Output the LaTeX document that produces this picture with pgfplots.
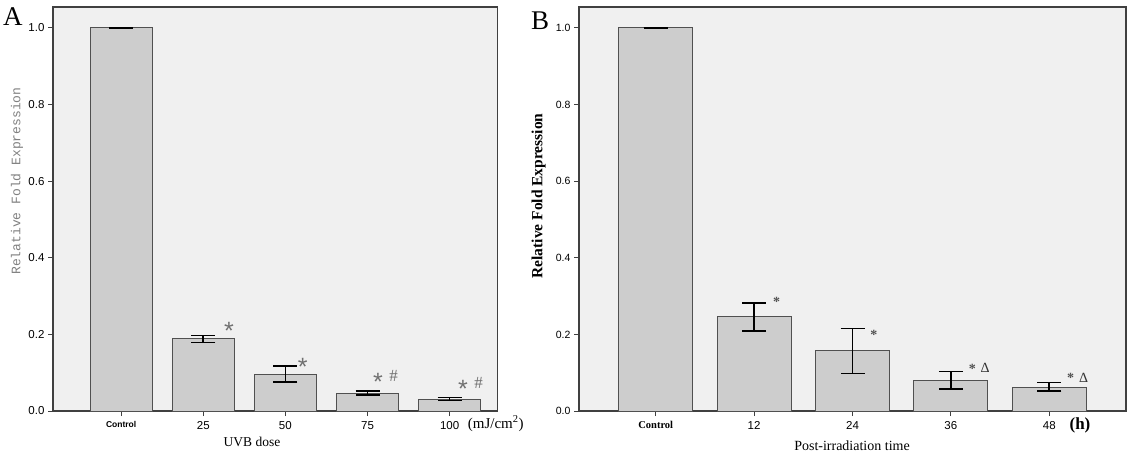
\documentclass[border=0pt]{standalone}
\usepackage{fontspec}
\setmainfont{Liberation Serif}
\newfontfamily\arial{Liberation Sans}
\newfontfamily\cour{Liberation Mono}
\usepackage{pgfplots}
\pgfplotsset{compat=1.18}
\definecolor{bgc}{HTML}{F0F0F0}
\definecolor{barc}{HTML}{CDCDCD}
\definecolor{edgec}{HTML}{505050}
\definecolor{framec}{HTML}{404040}
\definecolor{astc}{HTML}{707070}
\newcommand\fs[1]{\fontsize{#1}{#1}\selectfont}
\pgfplotsset{
  common/.style={
    scale only axis, anchor=south west, height=404pt,
    ymin=0, ymax=1.0548,
    axis background/.style={fill=bgc},
    axis line style={framec, line width=1.1pt},
    ytick={0,0.2,0.4,0.6,0.8,1.0},
    yticklabels={0.0,0.2,0.4,0.6,0.8,1.0},
    xtick={0,1,2,3,4},
    tick align=outside, major tick length=5pt,
    tick style={framec, line width=1pt},
    xtick pos=lower, ytick pos=left,
    xticklabel style={yshift=-2pt},
    clip=false,
  },
  barplot/.style={
    ybar, bar width=0.753, fill=barc, draw=edgec, line width=1pt,
    error bars/.cd, y dir=both, y explicit,
    error bar style={black, line width=1.6pt},
    error mark options={rotate=90, black, line width=1.6pt, mark size=12pt},
  },
}
\begin{document}
\begin{tikzpicture}
\path[use as bounding box] (0pt,0pt) rectangle (1129pt,453pt);
% Panel A
\begin{axis}[common, at={(53pt,42pt)}, width=444.5pt,
  xmin=-0.83, xmax=4.583,
  xticklabels={{\arial\bfseries\fs{8.5}Control},25,50,75,100},
  xticklabel style={font=\arial\fs{11.5}},
  yticklabel style={font=\arial\fs{11.5}},
]
\addplot[barplot] coordinates {
  (0,1.0)   += (0,0)      -= (0,0)
  (1,0.189) += (0,0.0086) -= (0,0.010)
  (2,0.0966) += (0,0.021) -= (0,0.021)
  (3,0.046) += (0,0.006)  -= (0,0.005)
  (4,0.031) += (0,0.0047) -= (0,0.004)
};
\node[anchor=base, yshift=-14.3pt, text=astc, font=\arial\fs{25}] at (1.313,0.2245) {*};
\node[anchor=base, yshift=-14.3pt, text=astc, font=\arial\fs{25}] at (2.21,0.1305) {*};
\node[anchor=base, yshift=-14.3pt, text=astc, font=\arial\fs{25}] at (3.128,0.0914) {*};
\node[anchor=base, yshift=-5.6pt, text=astc, font=\fs{17}] at (3.318,0.0914) {\#};
\node[anchor=base, yshift=-14.3pt, text=astc, font=\arial\fs{25}] at (4.163,0.0723) {*};
\node[anchor=base, yshift=-5.6pt, text=astc, font=\fs{17}] at (4.353,0.0731) {\#};
\end{axis}
% Panel B
\begin{axis}[common, at={(579pt,42pt)}, width=547pt,
  xmin=-0.78, xmax=4.78,
  xticklabels={{\rmfamily\bfseries\fs{10.5}Control},12,24,36,48},
  xticklabel style={font=\arial\fs{11.5}},
  yticklabel style={font=\arial\fs{10.5}},
]
\addplot[barplot] coordinates {
  (0,1.0)   += (0,0)     -= (0,0)
  (1,0.246) += (0,0.036) -= (0,0.037)
  (2,0.157) += (0,0.058) -= (0,0.059)
  (3,0.080) += (0,0.023) -= (0,0.022)
  (4,0.062) += (0,0.012) -= (0,0.010)
};
\node[anchor=base, yshift=-7.4pt, text=edgec, font=\bfseries\fs{14}] at (1.228,0.2916) {*};
\node[anchor=base, yshift=-7.4pt, text=edgec, font=\bfseries\fs{14}] at (2.216,0.2055) {*};
\node[anchor=base, yshift=-7.4pt, text=edgec, font=\bfseries\fs{14}] at (3.218,0.1183) {*};
\node[anchor=base, yshift=-4.6pt, text=black!80, font=\fs{14}] at (3.347,0.1115) {Δ};
\node[anchor=base, yshift=-7.4pt, text=edgec, font=\bfseries\fs{14}] at (4.217,0.094) {*};
\node[anchor=base, yshift=-4.6pt, text=black!80, font=\fs{14}] at (4.349,0.0854) {Δ};
\end{axis}
% Panel letters and labels
\node[anchor=base west, inner sep=0pt, font=\fs{27}] at (3pt,427pt) {A};
\node[anchor=base west, inner sep=0pt, font=\fs{27}] at (531pt,423pt) {B};
\node[anchor=base, inner sep=0pt, font=\fs{13.5}] at (252pt,7pt) {UVB dose};
\node[anchor=base, inner sep=0pt, font=\fs{15}] at (495.7pt,25pt) {(mJ/cm\textsuperscript{2})};
\node[anchor=base, inner sep=0pt, font=\fs{14}] at (852pt,3pt) {Post-irradiation time};
\node[anchor=base, inner sep=0pt, font=\bfseries\fs{17}] at (1080pt,24pt) {(h)};
\node[rotate=90, inner sep=0pt, text=black!50, font=\cour\fs{13}] at (17pt,272pt) {Relative Fold Expression};
\node[rotate=90, inner sep=0pt, font=\bfseries\fs{15.5}] at (538.6pt,257pt) {Relative Fold Expression};
\end{tikzpicture}
\end{document}
